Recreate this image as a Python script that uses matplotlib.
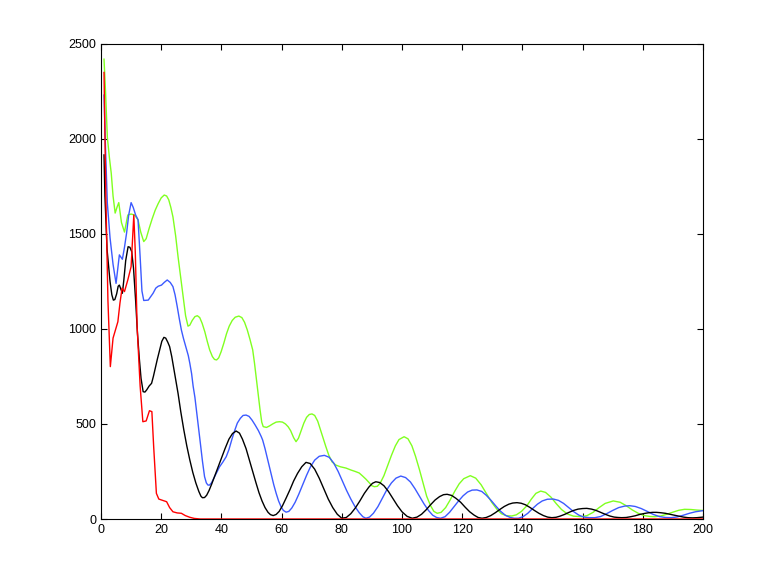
import matplotlib
matplotlib.use("Agg")
import matplotlib.pyplot as plt

# (x, y) values
green_pts = [
    (1, 2420), (1.5, 2250), (2.1, 2010), (2.8, 1900), (3.4, 1820), (4, 1700), (4.7, 1610),
    (5.3, 1640), (5.9, 1665), (6.8, 1560), (7.8, 1510), (8.4, 1560), (8.9, 1600), (10, 1605),
    (11.1, 1600), (12.3, 1575), (13.2, 1510), (14.2, 1460), (15, 1475), (16, 1530), (17, 1580),
    (18, 1625), (19, 1660), (20, 1690), (21, 1705), (21.8, 1700), (22.5, 1680), (23.2, 1640),
    (23.9, 1590), (24.8, 1490), (25.6, 1380), (26.5, 1270), (27.3, 1170), (28.1, 1070),
    (28.9, 1015), (29.5, 1020), (30.3, 1045), (31.2, 1065), (32, 1070), (32.8, 1060),
    (33.6, 1030), (34.5, 985), (35.3, 935), (36.1, 890), (37, 855), (37.7, 840), (38.4, 837),
    (39.1, 848), (39.9, 880), (40.8, 925), (41.7, 975), (42.6, 1015), (43.6, 1045),
    (44.6, 1062), (45.8, 1068), (46.8, 1060), (47.7, 1035), (48.6, 995), (49.5, 945),
    (50.4, 890), (51, 820), (51.6, 740), (52.2, 660), (52.8, 580), (53.4, 510), (53.9, 486),
    (55, 482), (56, 490), (57, 500), (58.2, 510), (59.3, 512), (60.3, 510), (61.3, 500),
    (62.2, 485), (63, 465), (64, 428), (64.8, 407), (65.6, 425), (66.5, 465), (67.4, 505),
    (68.3, 535), (69.2, 550), (70.1, 553), (71, 545), (72, 515), (73, 465), (74, 415),
    (74.7, 381), (75.7, 335), (76.8, 300), (78, 284), (79.5, 275), (81.4, 268), (83, 258),
    (84.5, 250), (85.8, 242), (87, 225), (88, 210), (89, 193), (90, 175), (90.8, 170),
    (91.8, 172), (92.8, 190), (94, 228), (95.2, 280), (96.5, 335), (97.8, 385), (99, 418),
    (100.7, 433), (102, 422), (103.3, 385), (104.5, 330), (105.8, 260), (107, 190),
    (108.2, 120), (109.5, 70), (110.6, 40), (111.7, 30), (113, 35), (114.5, 60), (116, 100),
    (117.5, 145), (119, 185), (120.5, 212), (122.7, 228), (124.5, 215), (126.3, 180),
    (128, 135), (129.8, 88), (131.5, 52), (133, 28), (134.8, 17), (136.5, 16), (138, 22),
    (139.7, 40), (141.5, 70), (143, 105), (144.5, 135), (146.1, 147), (147.7, 140),
    (149.5, 115), (151.3, 80), (153, 50), (155, 26), (157, 15), (159.7, 12), (161.5, 18),
    (163.5, 35), (165.5, 60), (167.5, 82), (170.2, 95), (172.5, 88), (174.5, 70), (176.5, 48),
    (178.5, 30), (180.5, 18), (182.5, 13), (184, 12), (186, 16), (188, 25), (190, 36),
    (192, 46), (193.9, 51), (196, 50), (198, 47), (200, 45),
]

blue_pts = [
    (1, 2231), (1.5, 1950), (2.1, 1663), (3, 1480), (4, 1340), (5, 1240), (5.6, 1320),
    (6.1, 1390), (7.1, 1367), (7.8, 1430), (8.5, 1505), (9.2, 1600), (10, 1665), (10.7, 1640),
    (11.5, 1600), (12.3, 1575), (13, 1380), (13.6, 1200), (14.2, 1150), (15.7, 1152),
    (16.5, 1170), (17.3, 1188), (18.2, 1215), (19, 1225), (20.1, 1231), (21, 1245),
    (22, 1258), (23, 1245), (23.9, 1223), (24.6, 1180), (25.3, 1120), (26, 1055),
    (26.7, 995), (27.4, 950), (28.2, 905), (29, 860), (29.5, 820), (30.1, 765), (30.6, 700),
    (31.2, 640), (31.7, 574), (32.4, 480), (33, 400), (33.7, 305), (34.4, 223), (35, 190),
    (35.5, 179), (36, 178), (36.7, 190), (37.5, 215), (38.3, 240), (39.4, 275), (40.5, 300),
    (41.6, 328), (42.5, 365), (43.5, 420), (44.4, 465), (45.3, 505), (46.3, 530),
    (47.2, 545), (48.2, 547), (49.2, 540), (50.2, 520), (51.2, 495), (52.3, 465),
    (53.2, 435), (53.7, 416), (54.5, 370), (55.5, 305), (56.5, 240), (57.4, 180),
    (58.2, 135), (59, 95), (59.8, 65), (60.6, 45), (61.5, 36), (62.4, 40), (63.4, 58),
    (64.5, 88), (65.7, 130), (67, 180), (68.3, 230), (69.6, 275), (71, 310), (72.5, 330),
    (74.2, 335), (75.8, 325), (77.3, 295), (78.8, 250), (80.2, 200), (81.6, 150), (83, 105),
    (84.4, 65), (85.8, 33), (87, 12), (88, 4), (89.2, 10), (90.5, 30), (92, 65), (93.5, 110),
    (95, 155), (96.5, 190), (98, 215), (99.6, 226), (101.2, 218), (102.8, 195), (104.3, 160),
    (105.8, 120), (107.3, 80), (108.8, 45), (110.2, 20), (111.5, 8), (112.8, 4), (114.3, 12),
    (115.8, 35), (117.3, 65), (118.8, 95), (120.3, 122), (121.8, 142), (123.3, 152),
    (124.9, 153), (126.5, 145), (128, 125), (129.6, 98), (131.2, 68), (132.8, 40),
    (134.4, 19), (136, 8), (137.3, 4), (138.7, 4), (140.2, 12), (141.8, 30), (143.4, 55),
    (145, 78), (146.6, 95), (148.3, 104), (150.3, 105), (152, 98), (153.7, 82), (155.4, 60),
    (157.1, 38), (158.8, 20), (160.5, 10), (162.3, 7), (164.1, 7), (166, 13), (168, 28),
    (170, 45), (172, 60), (174, 68), (175.7, 70), (177.5, 66), (179.5, 55), (181.5, 40),
    (183.5, 24), (185.5, 13), (187.5, 8), (189.5, 7), (191.5, 11), (193.5, 20), (195.5, 30),
    (197.5, 38), (200, 44),
]

black_pts = [
    (1, 1916), (1.3, 1700), (2, 1420), (3, 1250), (3.6, 1180), (4.1, 1152), (4.6, 1155),
    (5.2, 1185), (5.7, 1225), (6.1, 1231), (6.6, 1210), (7.1, 1188), (7.6, 1260), (8.2, 1360),
    (9, 1433), (9.6, 1430), (10.2, 1407), (10.8, 1320), (11.5, 1150), (12.1, 980),
    (12.7, 850), (13.3, 740), (14, 670), (14.6, 668), (15.2, 680), (16, 700), (16.8, 714),
    (17.4, 750), (17.9, 784), (18.7, 840), (19.5, 890), (20.2, 935), (20.9, 956), (21.5, 952),
    (22.2, 930), (22.8, 907), (23.5, 855), (24.2, 790), (24.9, 725), (25.6, 661), (26.5, 565),
    (27.5, 470), (28.5, 385), (29.5, 311), (30.5, 245), (31.5, 190), (32.5, 145), (33.2, 120),
    (33.7, 112), (34.4, 113), (35.1, 125), (35.9, 150), (36.8, 185), (37.7, 223), (38.8, 270),
    (40, 320), (41.2, 370), (42.5, 420), (43.7, 450), (44.9, 463), (46, 452), (47, 420),
    (48.2, 370), (49.3, 311), (50.4, 250), (51.5, 190), (52.5, 138), (53.5, 95), (54.5, 60),
    (55.5, 35), (56.3, 23), (57.2, 18), (58.2, 24), (59.2, 40), (60.3, 70), (61.5, 110),
    (62.8, 155), (64, 200), (65.3, 240), (66.7, 275), (68.1, 298), (69.5, 292), (71, 262),
    (72.5, 215), (74, 160), (75.5, 105), (77, 60), (78.5, 25), (80, 4), (81.5, 8), (83, 28),
    (84.5, 58), (86, 95), (87.5, 135), (89, 168), (90.2, 188), (91.3, 196), (92.6, 192),
    (94, 175), (95.5, 145), (97, 108), (98.5, 70), (100, 38), (101.7, 14), (103.4, 4),
    (105, 10), (106.5, 25), (108, 48), (109.5, 75), (111, 100), (112.5, 118), (113.8, 128),
    (115, 130), (116.5, 124), (118, 108), (119.5, 88), (121, 62), (122.5, 38), (124, 20),
    (125.3, 8), (126.6, 4), (128, 8), (129.5, 18), (131, 33), (132.5, 50), (134, 66),
    (135.5, 78), (136.8, 84), (138.2, 86), (139.6, 83), (141, 75), (142.5, 61), (144, 45),
    (145.5, 30), (147, 18), (148.4, 10), (149.8, 7), (151.2, 9), (152.5, 15), (154, 24),
    (155.5, 35), (157, 45), (158.5, 52), (160, 55), (161.4, 56), (163, 52), (164.5, 45),
    (166, 35), (167.5, 25), (169, 16), (170.5, 10), (171.8, 8), (173, 7), (174.5, 8),
    (176, 12), (177.5, 17), (179, 24), (180.5, 29), (182, 33), (183.3, 35), (184.5, 35),
    (186, 33), (187.5, 30), (189, 25), (190.5, 20), (192, 15), (193.5, 10), (195, 7),
    (196.5, 6), (198, 7), (200, 10),
]

red_pts = [
    (1, 2350), (1.6, 1700), (2.3, 1150), (3.1, 802), (4, 952), (5.6, 1038), (6.3, 1137),
    (7, 1215), (7.8, 1197), (8.9, 1258), (10, 1328), (10.9, 1600), (11.4, 1400), (12, 1012),
    (13, 700), (13.9, 512), (15, 516), (16.1, 570), (16.9, 565), (17.5, 380), (18.4, 135),
    (19.2, 105), (20.1, 100), (21.8, 91), (22.8, 60), (23.9, 38), (25.3, 32), (26.7, 30),
    (28, 18), (29.5, 9), (31, 3), (33, 0), (200, 0),
]

plt.rcParams["font.family"] = ["Liberation Sans", "DejaVu Sans"]

fig = plt.figure(figsize=(7.77, 5.84), dpi=100)
ax = fig.add_axes([0.13, 0.1113, 0.7747, 0.8134])

for pts, col in [(green_pts, "#80ff20"), (blue_pts, "#3c5aff"),
                 (black_pts, "black"), (red_pts, "#ff0000")]:
    xs, ys = zip(*pts)
    ax.plot(xs, ys, color=col, lw=1)

ax.set_xlim(0, 200)
ax.set_ylim(0, 2500)
ax.set_xticks(range(0, 201, 20))
ax.set_yticks(range(0, 2501, 500))
ax.tick_params(direction="in", length=4, top=True, right=True, labelsize=9, width=0.8)
for s in ax.spines.values():
    s.set_linewidth(0.8)

fig.savefig("out.png", dpi=100)
